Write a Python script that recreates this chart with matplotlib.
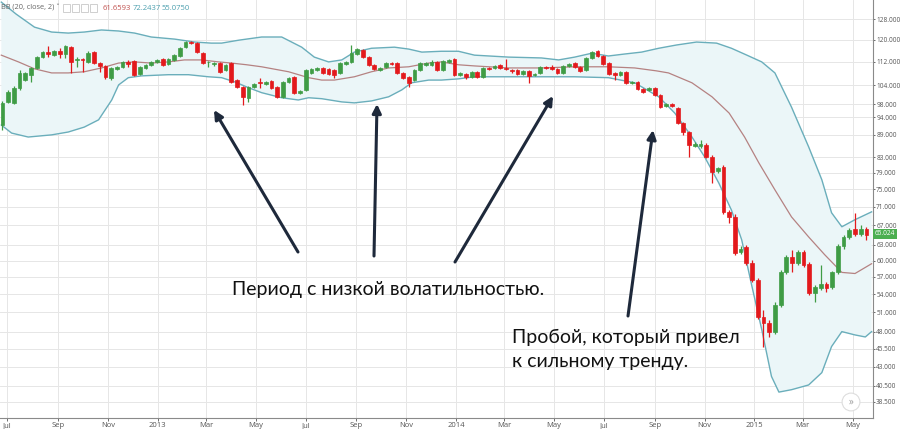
import numpy as np
import matplotlib
matplotlib.use("Agg")
import matplotlib.pyplot as plt
import matplotlib.dates as mdates
from matplotlib.ticker import FixedLocator, FuncFormatter

# weekly candles, first week starting 2012-06-25
first_week = "2012-06-25"

opens = [
    91.8, 98.7, 98.4, 103.2, 105.7, 107.5, 109.8, 113.6, 115.4, 114.3,
    115.7, 114.7, 117.2, 112.4, 112.8, 111.9, 115.4, 111.5, 110.5, 106.5,
    109.5, 110.2, 111.9, 112.2, 107.8, 109.8, 110.9, 111.9, 112.9, 111.2,
    112.6, 114.0, 117.2, 119.1, 118.7, 115.0, 111.7, 111.2, 111.5, 109.1,
    111.5, 105.7, 103.5, 100.0, 103.5, 104.9, 104.5, 105.4, 103.5, 100.3,
    105.1, 106.8, 101.6, 102.5, 108.1, 109.1, 109.8, 109.5, 109.1, 108.1,
    111.2, 111.9, 114.7, 116.1, 113.6, 110.9, 109.1, 110.2, 111.5, 111.5,
    108.1, 106.8, 105.7, 109.1, 110.9, 110.9, 111.9, 109.1, 111.9, 112.9,
    107.5, 107.8, 106.8, 108.5, 106.8, 109.8, 109.8, 110.9, 109.8, 109.1,
    109.1, 107.8, 108.8, 107.5, 108.1, 110.2, 110.2, 109.5, 108.1, 110.5,
    111.5, 110.2, 109.1, 113.3, 115.7, 114.0, 111.5, 108.1, 107.5, 108.5,
    104.8, 105.1, 102.9, 102.5, 103.2, 101.0, 97.5, 98.1, 96.8, 92.4,
    89.8, 85.9, 85.9, 86.2, 83.1, 79.4, 80.5, 69.9, 68.8, 61.7,
    62.5, 59.6, 56.5, 50.3, 49.3, 48.0, 52.2, 57.9, 60.7, 59.6,
    61.7, 59.4, 54.2, 55.0, 55.8, 55.2, 57.9, 62.7, 64.6, 66.3, 65.3, 66.3,
]
highs = [
    99.0, 102.5, 103.8, 109.1, 108.5, 110.2, 114.0, 115.7, 117.6, 116.1,
    116.8, 118.0, 117.6, 113.6, 113.3, 115.7, 115.7, 111.9, 110.9, 110.2,
    110.5, 112.2, 112.6, 112.6, 110.5, 111.2, 112.2, 112.9, 113.3, 113.3,
    114.7, 117.2, 119.4, 119.4, 119.1, 115.4, 112.2, 111.9, 111.9, 111.2,
    111.9, 106.1, 103.8, 103.8, 104.8, 106.5, 105.4, 105.7, 103.8, 105.4,
    106.8, 107.1, 102.5, 109.5, 109.8, 110.2, 110.1, 109.8, 109.4, 111.9,
    112.2, 118.0, 116.8, 116.5, 114.0, 111.2, 110.2, 111.9, 111.9, 111.9,
    108.5, 107.1, 109.5, 111.9, 111.9, 112.6, 112.2, 112.6, 112.9, 113.3,
    108.5, 108.1, 108.8, 108.8, 110.2, 110.2, 110.9, 111.2, 112.9, 109.5,
    109.5, 109.1, 109.1, 108.1, 110.5, 110.5, 110.9, 109.8, 110.9, 111.5,
    111.9, 110.5, 113.6, 115.7, 116.1, 114.3, 111.9, 108.5, 108.8, 108.8,
    105.4, 105.4, 103.2, 103.5, 103.5, 101.3, 98.4, 98.4, 97.1, 92.7,
    90.1, 87.0, 87.6, 86.8, 83.6, 80.5, 81.0, 70.3, 69.5, 62.7,
    62.9, 60.1, 56.8, 51.4, 49.8, 52.6, 58.3, 61.1, 62.1, 62.1,
    62.1, 59.8, 55.5, 59.2, 56.1, 58.1, 63.1, 65.0, 66.5, 69.7, 67.0, 66.7,
]
lows = [
    90.4, 98.4, 98.0, 102.5, 105.4, 105.1, 109.5, 113.3, 113.6, 114.0,
    113.3, 113.3, 108.1, 110.2, 108.5, 111.5, 111.2, 108.5, 106.1, 105.7,
    109.1, 109.8, 110.2, 107.1, 107.5, 109.5, 110.5, 111.5, 110.5, 110.9,
    112.2, 113.6, 116.8, 118.3, 115.0, 111.2, 110.2, 110.5, 108.1, 108.8,
    104.8, 103.2, 97.8, 98.7, 103.2, 103.2, 104.1, 102.9, 100.0, 100.0,
    104.8, 101.3, 101.3, 102.2, 107.8, 108.8, 107.8, 107.5, 106.5, 107.8,
    110.9, 111.5, 114.3, 113.3, 110.5, 109.1, 108.8, 109.8, 110.9, 107.8,
    106.1, 103.5, 105.4, 108.8, 110.5, 110.5, 108.8, 108.8, 111.5, 107.1,
    107.1, 106.1, 106.5, 106.5, 106.5, 109.1, 109.5, 109.5, 109.1, 108.1,
    107.5, 107.5, 104.8, 107.1, 107.8, 109.5, 109.1, 107.8, 107.8, 110.2,
    109.8, 108.5, 108.8, 113.0, 113.6, 110.9, 107.5, 105.7, 107.1, 104.5,
    104.5, 102.5, 101.6, 102.2, 100.6, 96.8, 97.1, 97.1, 92.1, 89.0,
    83.1, 85.6, 85.3, 82.8, 76.6, 79.0, 69.5, 67.5, 61.1, 61.3,
    59.2, 56.1, 49.9, 45.8, 47.2, 47.7, 51.8, 57.6, 57.8, 59.2,
    58.8, 53.8, 52.6, 54.7, 54.4, 54.9, 57.6, 62.3, 64.2, 64.8, 64.8, 64.0,
]
closes = [
    98.4, 101.9, 103.2, 108.1, 108.1, 109.8, 113.6, 115.4, 114.7, 115.7,
    114.7, 117.6, 111.9, 112.8, 112.4, 115.0, 111.5, 110.5, 106.8, 109.8,
    110.2, 111.9, 111.2, 107.5, 110.2, 110.9, 111.9, 112.6, 110.9, 112.9,
    114.3, 116.8, 119.1, 118.7, 115.4, 111.5, 112.0, 111.5, 108.5, 110.9,
    105.1, 103.5, 100.3, 103.5, 104.5, 104.6, 105.1, 103.2, 100.3, 105.1,
    106.5, 101.6, 102.2, 109.1, 109.5, 109.8, 108.1, 107.8, 107.5, 111.5,
    111.9, 115.0, 116.5, 113.6, 110.9, 109.5, 109.8, 111.5, 111.2, 108.1,
    106.5, 104.8, 109.1, 111.5, 111.5, 111.9, 109.1, 112.2, 112.6, 107.5,
    108.1, 106.8, 108.5, 106.8, 109.8, 109.5, 110.5, 109.8, 109.5, 108.8,
    107.8, 108.8, 107.1, 107.8, 110.2, 109.8, 109.5, 108.1, 110.5, 111.2,
    110.2, 108.8, 113.3, 115.4, 114.0, 111.2, 107.8, 107.5, 108.5, 104.8,
    105.1, 102.9, 101.9, 103.2, 101.0, 97.1, 98.1, 97.5, 92.4, 89.8,
    86.2, 86.5, 86.5, 83.1, 79.2, 80.2, 69.9, 68.8, 61.5, 62.3,
    59.6, 56.5, 50.3, 49.3, 48.0, 52.2, 57.9, 60.7, 59.6, 61.7,
    59.2, 54.2, 55.2, 55.8, 55.0, 57.8, 62.7, 64.6, 66.1, 65.3, 66.3, 65.02,
]

# Bollinger band lines (x = weeks after first candle)
upper_wk = [-0.2, 2.4, 5.6, 8.6, 11.5, 14.3, 17.3, 20.3, 23.1, 26.0, 30.1, 33.6,
            36.5, 38.3, 41.3, 45.3, 48.8, 52.3, 54.5, 57.0, 59.3, 61.5, 64.5, 68.5,
            71.0, 73.3, 76.7, 79.7, 82.5, 88.5, 94.2, 97.2, 100.0, 103.0, 105.9,
            108.7, 111.7, 114.7, 117.8, 121.3, 124.8, 127.4, 130.1, 132.7, 135.0,
            137.9, 140.9, 143.2, 144.9, 146.7, 149.0, 151.9]
upper = [135.0, 130.0, 124.8, 122.9, 122.5, 122.9, 123.7, 123.3, 122.5, 121.0, 120.2, 119.1,
         118.7, 118.7, 119.8, 121.0, 121.0, 117.2, 113.6, 111.9, 112.6, 115.4, 116.8, 117.2,
         116.5, 115.4, 115.7, 115.7, 114.3, 113.6, 113.3, 112.6, 113.6, 115.0, 114.0,
         114.7, 115.4, 116.8, 118.0, 119.1, 118.7, 116.8, 114.3, 111.9, 108.1,
         97.1, 85.7, 77.3, 69.7, 66.7, 68.2, 69.9]

mid_wk = [-0.2, 2.8, 5.6, 8.6, 11.5, 14.3, 17.3, 20.3, 23.1, 26.0, 29.0, 31.8,
          34.8, 37.8, 40.0, 42.7, 45.3, 50.0, 53.5, 55.8, 58.0, 61.5, 64.5, 67.5,
          71.0, 74.5, 76.7, 79.7, 82.5, 88.5, 94.2, 100.0, 105.9, 110.5, 114.3,
          116.4, 120.5, 124.0, 127.0, 129.7, 132.2, 135.0, 137.9, 140.9, 143.7,
          146.7, 149.0, 151.9]
middle = [114.3, 111.9, 109.5, 108.1, 108.1, 108.5, 109.8, 111.5, 111.9, 111.5, 111.9, 112.6,
          112.6, 111.9, 111.5, 110.9, 110.2, 108.5, 106.5, 105.7, 105.7, 106.8, 108.5, 109.8,
          110.2, 111.5, 111.9, 110.9, 110.5, 109.8, 109.8, 110.2, 110.2, 109.8, 108.8,
          108.1, 104.8, 100.3, 95.3, 88.4, 81.5, 74.9, 68.8, 64.6, 61.1,
          57.8, 57.6, 59.4]

low_wk = [-0.2, 1.6, 4.5, 8.6, 11.5, 14.3, 16.8, 19.1, 20.3, 22.0, 24.3, 29.0,
          32.5, 36.0, 38.3, 40.6, 43.0, 45.3, 48.8, 51.7, 53.5, 55.8, 59.3, 61.5,
          64.5, 67.5, 69.8, 71.5, 74.5, 76.7, 79.7, 82.5, 88.5, 94.2, 100.0, 105.9,
          110.5, 114.7, 117.5, 120.5, 122.7, 125.2, 127.4, 129.2, 130.9, 132.7,
          134.4, 135.7, 137.9, 140.9, 143.2, 144.9, 146.7, 149.0, 150.8, 151.9]
lower = [91.8, 89.5, 88.4, 89.0, 89.8, 91.2, 93.3, 99.3, 104.1, 106.5, 107.1, 107.5,
         107.5, 106.8, 106.5, 105.1, 103.2, 101.6, 100.0, 99.3, 100.0, 99.7, 98.7, 98.4,
         99.0, 100.3, 102.5, 104.8, 105.7, 105.7, 106.1, 106.8, 106.8, 106.8, 106.8, 106.5,
         104.8, 100.3, 95.3, 88.4, 83.1, 76.5, 70.3, 64.0, 55.7, 48.3,
         41.7, 39.7, 40.0, 40.6, 42.2, 45.8, 48.0, 47.5, 47.2, 48.0]

price_ticks = [128, 120, 112, 104, 98, 94, 89, 83, 79, 75, 71, 67, 63, 60, 57, 54,
               51, 48, 45.5, 43, 40.5, 38.5]

header_vals = ["61.6593", "72.2437", "55.0750"]
last_price = "65.024"

GREEN = "#3f9c45"
RED = "#e3191c"
BAND = "#6aaebb"
FILL = "#ebf6f8"
MID = "#b58282"
NAVY = "#1e293b"

plt.rcParams["font.family"] = ["Open Sans", "DejaVu Sans"]

fig = plt.figure(figsize=(9, 4.29), dpi=100)
fig.patch.set_facecolor("white")
ax = fig.add_axes([0, 11 / 429, 873 / 900, 418 / 429])

t0 = mdates.date2num(np.datetime64(first_week))
o = np.array(opens)
h = np.array(highs)
lo = np.array(lows)
c = np.array(closes)
xs = t0 + np.arange(len(o)) * 7

ux = t0 + np.array(upper_wk) * 7
mx = t0 + np.array(mid_wk) * 7
lx = t0 + np.array(low_wk) * 7

ax.fill(np.concatenate([ux, lx[::-1]]), np.concatenate([upper, lower[::-1]]),
        color=FILL, lw=0, zorder=1)
ax.plot(ux, upper, color=BAND, lw=1.0, zorder=2)
ax.plot(lx, lower, color=BAND, lw=1.0, zorder=2)
ax.plot(mx, middle, color=MID, lw=0.9, zorder=2)

cols = np.where(c >= o, GREEN, RED)
ax.vlines(xs, lo, h, colors=cols, lw=0.9, zorder=3)
ax.bar(xs, np.abs(c - o), bottom=np.minimum(o, c), width=4.6, color=cols,
       edgecolor=cols, lw=0.5, zorder=4)

ax.set_yscale("log")
ax.set_ylim(36.6, 135.9)
ax.set_xlim(mdates.date2num(np.datetime64("2012-06-22")),
            mdates.date2num(np.datetime64("2015-05-26")))

ax.yaxis.set_major_locator(FixedLocator(price_ticks))
ax.yaxis.set_minor_locator(FixedLocator([]))
ax.yaxis.set_major_formatter(FuncFormatter(lambda v, p: f"{v:.3f}"))
ax.yaxis.tick_right()
ax.tick_params(axis="y", labelsize=4.7, colors="#555555", length=1.5, width=0.6, pad=0.8)


def month_label(v, p):
    d = mdates.num2date(v)
    return d.strftime("%Y") if d.month == 1 else d.strftime("%b")


ax.xaxis.set_major_locator(mdates.MonthLocator(bymonth=[1, 3, 5, 7, 9, 11]))
ax.xaxis.set_major_formatter(FuncFormatter(month_label))
ax.tick_params(axis="x", labelsize=5.5, colors="#555555", length=2, width=0.6, pad=1)

ax.grid(True, color="#e6e6e6", lw=0.7, zorder=0)
ax.set_axisbelow(True)
for s in ["top", "left"]:
    ax.spines[s].set_visible(False)
for s in ["bottom", "right"]:
    ax.spines[s].set_color("#8a8a8a")
    ax.spines[s].set_linewidth(0.8)

# header
fig.text(1 / 900, 1 - 8 / 429, "BB (20, close, 2) \u02c5", fontsize=5.3,
         color="#666666", va="center", ha="left")
for k in range(4):
    fig.patches.append(plt.Rectangle(((63 + k * 9) / 900, 1 - 12 / 429), 7 / 900, 8 / 429,
                                     transform=fig.transFigure, fill=False,
                                     ec="#c8c8c8", lw=0.6))
fig.text(103 / 900, 1 - 8 / 429, header_vals[0], fontsize=5.5, color="#c0504d", va="center")
fig.text(133 / 900, 1 - 8 / 429, header_vals[1], fontsize=5.5, color="#4b9fae", va="center")
fig.text(162 / 900, 1 - 8 / 429, header_vals[2], fontsize=5.5, color="#4b9fae", va="center")

# last price tag
fig.text(875 / 900, 1 - 234 / 429, last_price, fontsize=4.7, color="white", va="center",
         ha="left", bbox=dict(boxstyle="square,pad=0.3", fc="#4caf50", ec="none"))

# scroll button
fig.text(851 / 900, 1 - 402 / 429, "\u00bb", fontsize=7, color="#999999", ha="center",
         va="center", bbox=dict(boxstyle="circle,pad=0.35", fc="white", ec="#dddddd", lw=0.8))

# arrows
arrows = [((298, 252), (214, 110)), ((374, 256), (377, 104)),
          ((455, 262), (553, 96)), ((628, 316), (653, 130))]
for tail, head in arrows:
    ax.annotate("", xy=(head[0] / 900, 1 - head[1] / 429), xycoords="figure fraction",
                xytext=(tail[0] / 900, 1 - tail[1] / 429), textcoords="figure fraction",
                arrowprops=dict(arrowstyle="-|>", color=NAVY, lw=2.2, mutation_scale=13,
                                shrinkA=0, shrinkB=0), zorder=6)

note_font = ["Lato", "DejaVu Sans"]
fig.text(388 / 900, 1 - 289 / 429, "Период с низкой волатильностью.", fontsize=14,
         family=note_font, color="#111111", ha="center", va="center")
fig.text(512 / 900, 1 - 337 / 429, "Пробой, который привел", fontsize=14,
         family=note_font, color="#111111", ha="left", va="center")
fig.text(512 / 900, 1 - 361 / 429, "к сильному тренду.", fontsize=14,
         family=note_font, color="#111111", ha="left", va="center")

fig.savefig("out.png", dpi=100)
